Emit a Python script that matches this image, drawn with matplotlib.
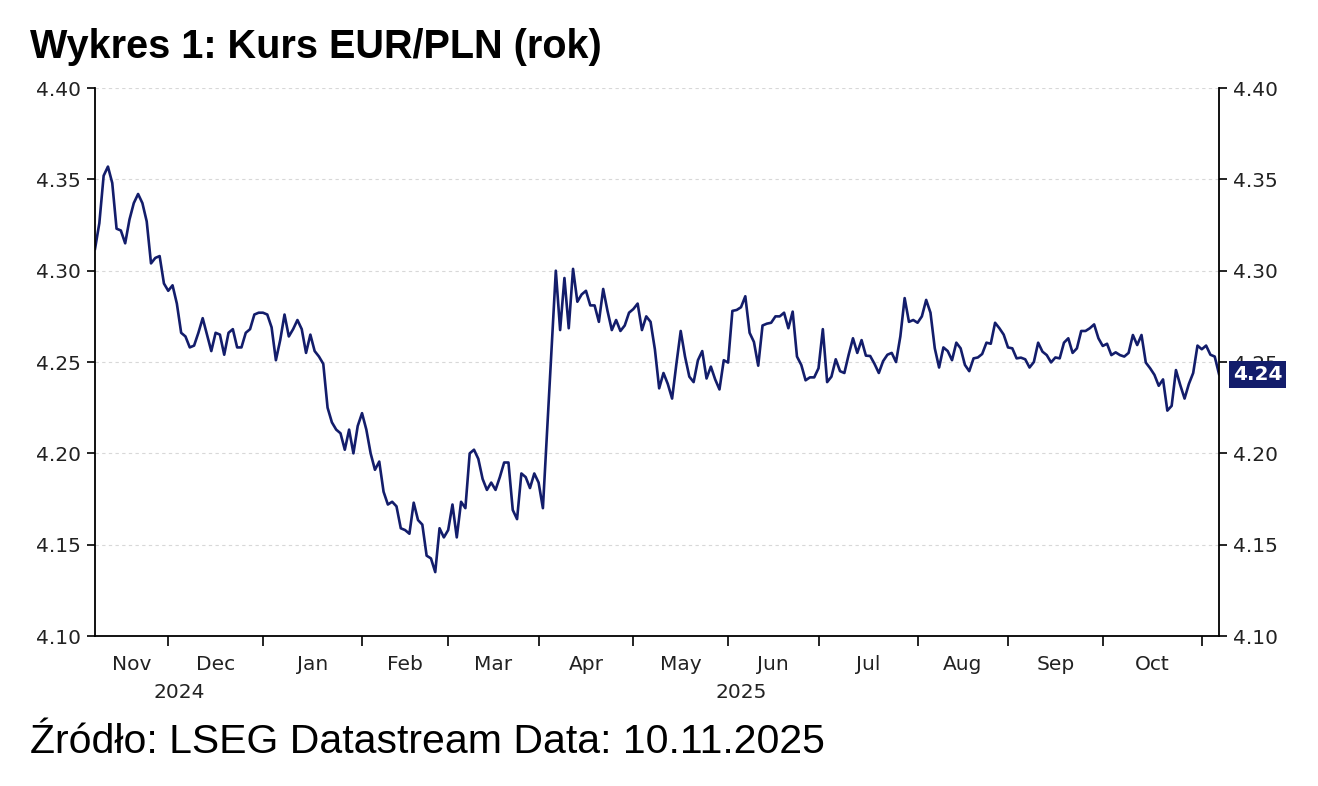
import matplotlib
matplotlib.use('Agg')
import matplotlib.pyplot as plt
import matplotlib.transforms as mtransforms
import numpy as np
import pandas as pd

# EUR/PLN, dzienne (dni robocze) od 7.11.2024
start_date = '2024-11-07'
eurpln = [
    # Nov - Dec 2024
    4.312, 4.326, 4.352, 4.357, 4.348, 4.323, 4.322, 4.315, 4.328, 4.337,
    4.342, 4.337, 4.327, 4.304, 4.307, 4.308, 4.293, 4.289, 4.292, 4.282,
    4.266, 4.264, 4.258, 4.259, 4.266, 4.274, 4.265, 4.256, 4.266, 4.265,
    4.254, 4.266, 4.268, 4.258, 4.258, 4.266, 4.268, 4.276, 4.277, 4.277,
    4.276, 4.269, 4.251, 4.262, 4.276,
    # Jan - Mar 2025
    4.264, 4.268, 4.273, 4.268, 4.255, 4.265, 4.256, 4.253, 4.249, 4.225,
    4.217, 4.213, 4.211, 4.202, 4.213, 4.200, 4.215, 4.222, 4.213, 4.200,
    4.191, 4.1955, 4.179, 4.172, 4.1735, 4.171, 4.159, 4.158, 4.156, 4.173,
    4.1635, 4.161, 4.144, 4.1425, 4.135, 4.159, 4.154, 4.158, 4.172, 4.154,
    4.1735, 4.170, 4.200,
    4.202, 4.197, 4.186, 4.180, 4.184, 4.180, 4.187, 4.195, 4.195, 4.169,
    4.164, 4.189, 4.187, 4.181, 4.189, 4.184, 4.170, 4.213, 4.257, 4.300,
    4.2675, 4.296, 4.2685, 4.301, 4.283, 4.287, 4.289, 4.281, 4.281, 4.272,
    4.290, 4.278, 4.2675, 4.273, 4.267, 4.270, 4.277, 4.279, 4.282, 4.2675,
    4.275, 4.272, 4.257,
    # May - Jul 2025
    4.2356, 4.244, 4.238, 4.230, 4.249, 4.267, 4.253, 4.242, 4.239, 4.251,
    4.256, 4.241, 4.2475, 4.2405, 4.235, 4.251, 4.2497, 4.278, 4.2785, 4.280,
    4.286, 4.266, 4.261, 4.248, 4.270, 4.271, 4.2715, 4.275, 4.275, 4.277,
    4.2685, 4.2776, 4.253, 4.2484, 4.240, 4.2416, 4.2416, 4.2466, 4.268, 4.239,
    4.242, 4.2515, 4.245, 4.244, 4.254, 4.263, 4.255, 4.262, 4.2535, 4.2533,
    # Jul - Sep 2025
    4.249, 4.244, 4.2505, 4.254, 4.255, 4.250, 4.264, 4.285, 4.272, 4.273,
    4.2715, 4.275, 4.284, 4.277, 4.2575, 4.247, 4.258, 4.256, 4.251, 4.2606,
    4.2575, 4.2484, 4.245, 4.252, 4.2525, 4.2544, 4.2606, 4.260, 4.2715, 4.2685,
    4.265, 4.258, 4.2575, 4.252, 4.2524, 4.2515,
    # Sep - Nov 2025
    4.247, 4.250, 4.2606, 4.2557, 4.2538, 4.2498, 4.2525, 4.252, 4.2606, 4.263,
    4.255, 4.2575, 4.267, 4.267, 4.2685, 4.2706, 4.263, 4.2588, 4.260, 4.2538,
    4.2553, 4.2538, 4.253, 4.255, 4.2648, 4.2593, 4.2648, 4.2497, 4.2466, 4.243,
    4.237, 4.2405, 4.2234, 4.226, 4.2456, 4.2374, 4.230, 4.238, 4.244, 4.259,
    4.257, 4.259, 4.254, 4.253, 4.2434,
]
last_label = '4.24'
y_ticks = [4.10, 4.15, 4.20, 4.25, 4.30, 4.35, 4.40]
month_starts = pd.date_range('2024-12-01', '2025-11-01', freq='MS')
year_starts = ['2025-01-01']

dates = pd.bdate_range(start=start_date, periods=len(eurpln))
# Datastream rysuje dni robocze w rownych odstepach -> os w dniach roboczych
x = np.arange(len(eurpln))
def bpos(d):
    return np.busday_count(np.datetime64(start_date), np.datetime64(pd.Timestamp(d).date()))

navy = '#131d6b'
txt = '#222222'

fig = plt.figure(figsize=(13.18, 7.86), dpi=100)
ax = fig.add_axes([0.0721, 0.1908, 0.8528, 0.6972])
ax.plot(x, eurpln, color=navy, linewidth=1.9)

ax.set_xlim(0, len(eurpln) - 1)
ax.set_ylim(4.10, 4.40)
ax.set_yticks(y_ticks)
ax.set_yticklabels([f'{v:.2f}' for v in y_ticks])
ax.grid(axis='y', color='#d8d8d8', linestyle=(0, (3, 3)), linewidth=0.8)
for s in ['top', 'right']:
    ax.spines[s].set_visible(False)
for s in ['left', 'bottom']:
    ax.spines[s].set_linewidth(1.3)
ax.tick_params(axis='y', direction='out', length=6, width=1.2, labelsize=14.5,
               labelcolor=txt, pad=4)

# prawa os
ax2 = ax.twinx()
ax2.set_ylim(ax.get_ylim())
ax2.set_yticks(y_ticks)
ax2.set_yticklabels([f'{v:.2f}' for v in y_ticks])
for s in ['top', 'left', 'bottom']:
    ax2.spines[s].set_visible(False)
ax2.spines['right'].set_linewidth(1.3)
ax2.tick_params(axis='y', direction='out', length=6, width=1.2, labelsize=14.5,
                labelcolor=txt, pad=4)

# os X: kreski na poczatku miesiecy, etykiety w srodku miesiecy
tick_pos = [bpos(m) for m in month_starts]
ax.set_xticks(tick_pos)
ax.set_xticklabels([])
ax.tick_params(axis='x', direction='out', length=7, width=1.2)

trans = mtransforms.blended_transform_factory(ax.transData, ax.transAxes)
edges = [0] + tick_pos + [len(eurpln) - 1]
names = [dates[0].strftime('%b')] + [m.strftime('%b') for m in month_starts]
for a, b, name in zip(edges[:-1], edges[1:], names):
    if b - a < 10:
        continue
    ax.text((a + b) / 2, -0.035, name, transform=trans,
            ha='center', va='top', fontsize=14.5, color=txt)

yr_edges = [0] + [bpos(y) for y in year_starts] + [len(eurpln) - 1]
yr_names = ['2024', '2025']
for a, b, lab in zip(yr_edges[:-1], yr_edges[1:], yr_names):
    ax.text((a + b) / 2, -0.085, lab, transform=trans,
            ha='center', va='top', fontsize=14.5, color=txt)

# etykieta ostatniej wartosci
ax2.annotate(last_label, xy=(1.0, eurpln[-1]),
             xycoords=mtransforms.blended_transform_factory(ax2.transAxes, ax2.transData),
             xytext=(10, 0), textcoords='offset points', ha='left', va='center',
             fontsize=14.5, fontweight='bold', color='white', zorder=10,
             bbox=dict(boxstyle='square,pad=0.2', facecolor=navy, edgecolor='none'))

fig.text(0.0228, 0.940, 'Wykres 1: Kurs EUR/PLN (rok)', fontsize=28.5,
         fontweight='bold', family='Liberation Sans', va='center', ha='left')
fig.text(0.0228, 0.056, 'Źródło: LSEG Datastream Data: 10.11.2025', fontsize=29.5,
         family='Liberation Sans', va='center', ha='left')

plt.savefig('out.png', dpi=100)
plt.close()
